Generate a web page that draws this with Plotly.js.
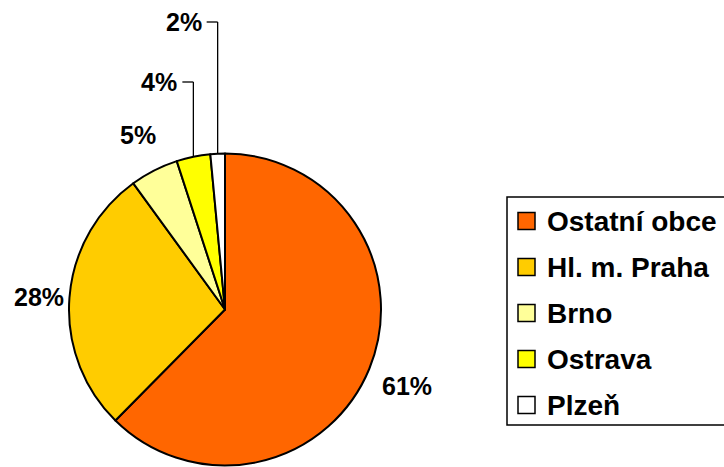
<!DOCTYPE html>
<html><head><meta charset="utf-8">
<script src="https://cdn.plot.ly/plotly-3.0.1.min.js"></script>
<style>html,body{margin:0;padding:0;background:#fff}#chart{width:724px;height:467px}</style>
</head><body><div id="chart"></div>
<script>
// ---- data ----
var categories = ["Ostatní obce", "Hl. m. Praha", "Brno", "Ostrava", "Plzeň"];
var values = [62.4, 27.6, 5.0, 3.5, 1.5];
var pctLabels = ["61%", "28%", "5%", "4%", "2%"];
var colors = ["#FF6600", "#FFCC00", "#FFFF99", "#FFFF00", "#FFFFFF"];

// ---- layout constants (pixels) ----
var W = 724, H = 467;
var CX = 225, CY = 309.5, R = 156;
var FONT = "Liberation Sans, Arial, sans-serif";
function px(x){ return x / W; }
function py(y){ return 1 - y / H; }

var total = values.reduce(function(a,b){return a+b;}, 0);
var annotations = [], shapes = [];

// label placement: radial distance, or leader elbow (y of label) for small slices
var labelMode = [
  {r: 197, dx: 0, dy: 2},
  {r: 187, dx: 0, dy: 2},
  {r: 191, dx: 0, dy: -4},
  {leaderY: 82, gap: 3},
  {leaderY: 22, gap: 3}
];
var cum = 0;
values.forEach(function(v, i){
  var mid = (cum + v/2) / total; cum += v;
  var ang = mid * 2 * Math.PI;          // clockwise from 12 o'clock
  var sx = Math.sin(ang), sy = -Math.cos(ang);
  var pct = pctLabels[i];
  var m = labelMode[i];
  if (m.leaderY !== undefined) {
    var ex = CX + R * sx, ey = CY + R * sy;
    var hx = ex - 11;
    shapes.push({type:"line", xref:"paper", yref:"paper", x0:px(ex), y0:py(ey), x1:px(ex), y1:py(m.leaderY), line:{color:"#000", width:1.3}});
    shapes.push({type:"line", xref:"paper", yref:"paper", x0:px(ex), y0:py(m.leaderY), x1:px(hx), y1:py(m.leaderY), line:{color:"#000", width:1.3}});
    annotations.push({xref:"paper", yref:"paper", x:px(hx - m.gap), y:py(m.leaderY), xanchor:"right", yanchor:"middle",
      text:"<b>"+pct+"</b>", showarrow:false, font:{family:FONT, size:25, color:"#000"}});
  } else {
    var lx = CX + m.r * sx + m.dx, ly = CY + m.r * sy + m.dy;
    annotations.push({xref:"paper", yref:"paper", x:px(lx), y:py(ly), xanchor:"center", yanchor:"middle",
      text:"<b>"+pct+"</b>", showarrow:false, font:{family:FONT, size:25, color:"#000"}});
  }
});

// ---- legend (drawn) ----
var LX = 507, LTOP = 197, LBOT = 425, ROW0 = 221, ROWSTEP = 46, SW = 17;
shapes.push({type:"rect", xref:"paper", yref:"paper", x0:px(LX), y0:py(LTOP), x1:px(760), y1:py(LBOT), line:{color:"#000", width:1.5}, fillcolor:"rgba(0,0,0,0)"});
categories.forEach(function(c, i){
  var yc = ROW0 + i * ROWSTEP;
  shapes.push({type:"rect", xref:"paper", yref:"paper", x0:px(518), y0:py(yc - SW/2), x1:px(518 + SW), y1:py(yc + SW/2),
    line:{color:"#000", width:1.5}, fillcolor: colors[i]});
  annotations.push({xref:"paper", yref:"paper", x:px(545), y:py(yc), xanchor:"left", yanchor:"middle",
    text:"<b>"+c+"</b>", showarrow:false, font:{family:FONT, size:28, color:"#000"}});
});

var trace = {
  type: "pie",
  labels: categories,
  values: values,
  sort: false,
  direction: "clockwise",
  rotation: 0,
  marker: {colors: colors, line: {color: "#000", width: 2}},
  textinfo: "none",
  hoverinfo: "none",
  showlegend: false,
  domain: {x: [px(CX - R), px(CX + R)], y: [py(CY + R), py(CY - R)]}
};

var layout = {
  width: W, height: H,
  margin: {l:0, r:0, t:0, b:0},
  paper_bgcolor: "#fff",
  showlegend: false,
  annotations: annotations,
  shapes: shapes
};
Plotly.newPlot("chart", [trace], layout, {displayModeBar:false, staticPlot:true});
</script></body></html>
